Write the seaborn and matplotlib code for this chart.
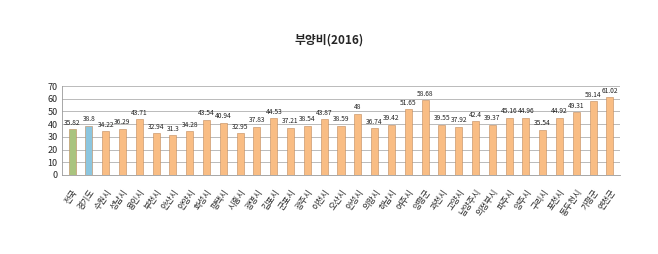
import matplotlib
matplotlib.use("Agg")
import matplotlib.pyplot as plt
import seaborn as sns
import pandas as pd

regions = ["전국", "경기도", "수원시", "성남시", "용인시", "부천시", "안산시", "안양시", "화성시",
           "평택시", "시흥시", "광명시", "김포시", "군포시", "광주시", "이천시", "오산시", "안성시",
           "의왕시", "하남시", "여주시", "양평군", "과천시", "고양시", "남양주시", "의정부시",
           "파주시", "양주시", "구리시", "포천시", "동두천시", "가평군", "연천군"]
values = [35.82, 38.8, 34.22, 36.29, 43.71, 32.94, 31.3, 34.28, 43.54,
          40.94, 32.95, 37.83, 44.53, 37.21, 38.54, 43.87, 38.59, 48,
          36.74, 39.42, 51.65, 58.68, 39.55, 37.92, 42.4, 39.37,
          45.16, 44.96, 35.54, 44.92, 49.31, 58.14, 61.02]
value_labels = ["35.82", "38.8", "34.22", "36.29", "43.71", "32.94", "31.3", "34.28", "43.54",
                "40.94", "32.95", "37.83", "44.53", "37.21", "38.54", "43.87", "38.59", "48",
                "36.74", "39.42", "51.65", "58.68", "39.55", "37.92", "42.4", "39.37",
                "45.16", "44.96", "35.54", "44.92", "49.31", "58.14", "61.02"]
title = "부양비(2016)"

sns.set_theme(style="white")
plt.rcParams['font.family'] = ['Noto Sans CJK KR', 'DejaVu Sans']

colors = ["#a9c47f", "#8cc6df"] + ["#f9bd84"] * (len(regions) - 2)
df = pd.DataFrame({"region": regions, "value": values})

fig = plt.figure(figsize=(6.58, 2.54), dpi=100)
ax = fig.add_axes([62/658, 1 - 175/254, (620 - 62)/658, (175 - 86)/254])
sns.barplot(data=df, x="region", y="value", hue="region", palette=colors, legend=False,
            width=0.42, ax=ax, edgecolor="#c0895a", linewidth=0.4, saturation=1)

ax.set_ylim(0, 70)
ax.set_yticks(range(0, 71, 10))
ax.yaxis.grid(True, color="#b0b0b0", linewidth=0.6)
ax.set_axisbelow(True)
for s in ["top", "right"]:
    ax.spines[s].set_visible(False)
ax.spines["left"].set_color("#999999")
ax.spines["bottom"].set_color("#999999")
ax.spines["left"].set_linewidth(0.6)
ax.spines["bottom"].set_linewidth(0.6)
ax.set_xlabel("")
ax.set_ylabel("")
ax.tick_params(axis="y", labelsize=6.5, pad=3, length=0)
ax.tick_params(axis="x", labelsize=6, pad=9, length=0)
ax.set_xlim(-0.6, len(regions) - 0.4)
plt.setp(ax.get_xticklabels(), rotation=55, ha="right", rotation_mode="anchor")

for i, (v, lab) in enumerate(zip(values, value_labels)):
    ax.text(i, v + 2, lab, ha="center", va="bottom", fontsize=4.8, color="#222222")

fig.text(0.5, 1 - 40/254, title, ha="center", va="center", fontsize=8.5, fontweight="bold")

fig.savefig("out.png", dpi=100)
